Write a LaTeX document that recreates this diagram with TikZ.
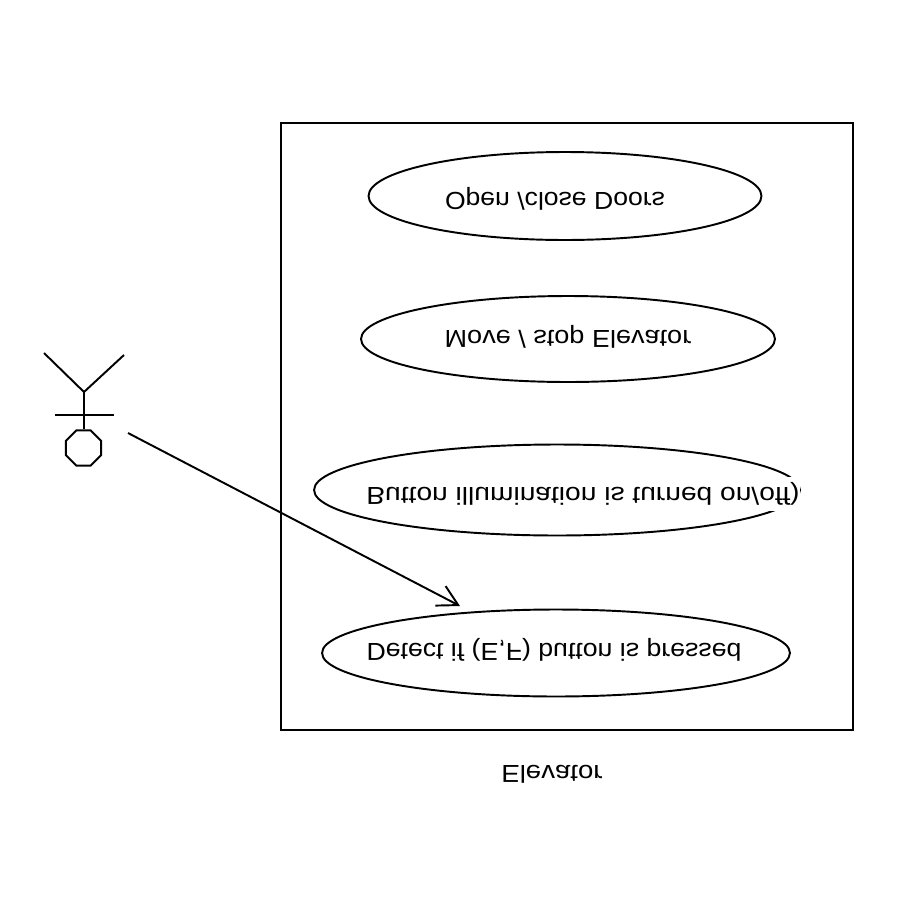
\documentclass[tikz,border=0pt]{standalone}
\usepackage{fontspec}
\setmainfont{Liberation Sans}
\usetikzlibrary{shapes.geometric}
\usetikzlibrary{arrows.meta}
\usetikzlibrary{positioning}
\tikzset{
usecase/.style={
  draw,shape=ellipse,inner sep=0pt,line width=1.1pt},
fliptext/.style={
  yscale=-1,transform shape,inner sep=1pt,font=\fontsize{14}{16}\selectfont}
}

\begin{document}
\begin{tikzpicture}[x=0.02cm,y=-0.02cm,line width=1.1pt]
\useasboundingbox (0,0) rectangle (900,900);
\node[draw,rectangle,inner sep=0pt,minimum width=11.44cm,minimum height=12.14cm](system) at (567,426.5){};

\node[usecase,minimum width=7.86cm,minimum height=1.76cm](doors) at (565,196){};
\node[usecase,minimum width=8.28cm,minimum height=1.72cm](move) at (568,339){};
\node[usecase,minimum width=9.72cm,minimum height=1.82cm](light) at (557,490){};
\node[usecase,minimum width=9.36cm,minimum height=1.74cm](detect) at (556,653){};

\node[fliptext,xscale=1.08](doorstext) at (555,199){Open /close Doors};
\node[fliptext,xscale=1.10](movetext) at (568,337){Move / stop Elevator};
\node[fliptext,xscale=1.145,fill=white,inner sep=0pt,minimum height=0.68cm](lighttext) at (583,494){Button illumination is turned on/off)};
\node[fliptext,xscale=1.084](detecttext) at (554,650){Detect if (E,F) button is pressed};
\node[fliptext,xscale=1.12](systemtext) at (552,774){Elevator};

% actor
\node[draw,regular polygon,regular polygon sides=8,inner sep=0pt,minimum size=0.76cm](head) at (83.5,448){};
\coordinate (hip) at (84,392);
\coordinate (lfoot) at (44,353);
\coordinate (rfoot) at (124,355);
\coordinate (larm) at (55,415);
\coordinate (rarm) at (114,415);
\draw (lfoot)--(hip)--(rfoot);
\draw (hip)--(head.north-|hip);
\draw (larm)--(rarm);

\coordinate (start) at (128,433);
\coordinate (tip) at (460,606);
\draw[-{Straight Barb[length=4mm,width=4.4mm]}] (start)--(tip);

\end{tikzpicture}
\end{document}
